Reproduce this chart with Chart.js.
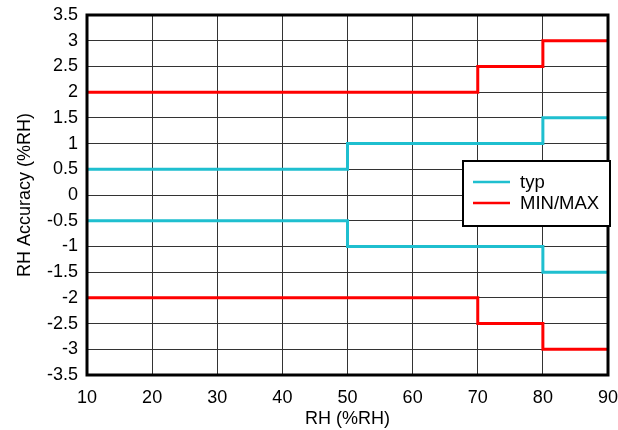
<!DOCTYPE html>
<html>
<head>
<meta charset="utf-8">
<script src="https://cdn.jsdelivr.net/npm/chart.js@4.4.0/dist/chart.umd.min.js"></script>
<style>
  html, body { margin: 0; padding: 0; background: #fff; }
  #wrap { width: 618px; height: 430px; }
</style>
</head>
<body>
<div id="wrap"><canvas id="rhChart" width="618" height="430"></canvas></div>
<script>
// Datos
const typX = [10, 50, 80, 90];
const typUpper = [0.5, 1, 1.5, 1.5];
const typLower = [-0.5, -1, -1.5, -1.5];
const limX = [10, 70, 80, 90];
const maxUpper = [2, 2.5, 3, 3];
const minLower = [-2, -2.5, -3, -3];
const legendLabels = ["typ", "MIN/MAX"];

const cyan = '#1fbfcf';
const red = '#ff0000';
const fuente = '"Liberation Sans", Arial, sans-serif';

function pts(xs, ys) {
    return xs.map((x, i) => ({ x: x, y: ys[i] }));
}

function serie(label, data, color) {
    return {
        label: label,
        data: data,
        borderColor: color,
        borderWidth: 3,
        pointRadius: 0,
        fill: false,
        stepped: 'before'
    };
}

// Borde grueso alrededor del area del grafico
const marco = {
    id: 'marco',
    afterDatasetsDraw(chart) {
        const { ctx, chartArea: a } = chart;
        ctx.save();
        ctx.strokeStyle = '#000';
        ctx.lineWidth = 3;
        ctx.strokeRect(a.left, a.top, a.right - a.left, a.bottom - a.top);
        ctx.restore();
    }
};

// Leyenda dentro del grafico, con caja
const leyenda = {
    id: 'leyenda',
    afterDraw(chart) {
        const { ctx, chartArea: a } = chart;
        const w = 147, h = 65;
        const x = a.right - w + 2, y = 161;
        ctx.save();
        ctx.fillStyle = '#fff';
        ctx.fillRect(x, y, w, h);
        ctx.strokeStyle = '#000';
        ctx.lineWidth = 2;
        ctx.strokeRect(x, y, w, h);
        const colores = [cyan, red];
        ctx.font = '18.5px ' + fuente;
        ctx.textBaseline = 'middle';
        legendLabels.forEach((t, i) => {
            const ly = y + 21 + i * 21;
            ctx.strokeStyle = colores[i];
            ctx.lineWidth = 2.5;
            ctx.beginPath();
            ctx.moveTo(x + 10, ly);
            ctx.lineTo(x + 47, ly);
            ctx.stroke();
            ctx.fillStyle = '#000';
            ctx.fillText(t, x + 57, ly + 1);
        });
        ctx.restore();
    }
};

const tickFont = { family: fuente, size: 18 };

new Chart(document.getElementById('rhChart').getContext('2d'), {
    type: 'line',
    data: {
        datasets: [
            serie('typ', pts(typX, typUpper), cyan),
            serie('typ', pts(typX, typLower), cyan),
            serie('MIN/MAX', pts(limX, maxUpper), red),
            serie('MIN/MAX', pts(limX, minLower), red)
        ]
    },
    options: {
        responsive: false,
        animation: false,
        layout: { padding: { top: 15, right: 10, left: 0, bottom: 0 } },
        plugins: {
            legend: { display: false },
            tooltip: { enabled: false }
        },
        scales: {
            x: {
                type: 'linear',
                min: 10, max: 90,
                ticks: { stepSize: 10, color: '#000', font: tickFont, padding: 12, maxRotation: 0 },
                grid: { color: '#333', lineWidth: 1, drawTicks: false },
                border: { display: false },
                title: { display: true, text: 'RH (%RH)', color: '#000', font: tickFont, padding: { top: 0, bottom: 0 } },
                afterFit(scale) {
                    scale.height = 55;
                    scale.paddingLeft = 0;
                    scale.paddingRight = 0;
                }
            },
            y: {
                min: -3.5, max: 3.5,
                ticks: {
                    stepSize: 0.5, color: '#000', font: tickFont, padding: 9,
                    callback: (v) => String(v)
                },
                grid: { color: '#333', lineWidth: 1, drawTicks: false },
                border: { display: false },
                title: { display: true, text: 'RH Accuracy (%RH)', color: '#000', font: tickFont, padding: { top: 14, bottom: 0 } },
                afterFit(scale) {
                    scale.width = 87;
                    scale.paddingTop = 0;
                    scale.paddingBottom = 0;
                }
            }
        }
    },
    plugins: [marco, leyenda]
});
</script>
</body>
</html>
